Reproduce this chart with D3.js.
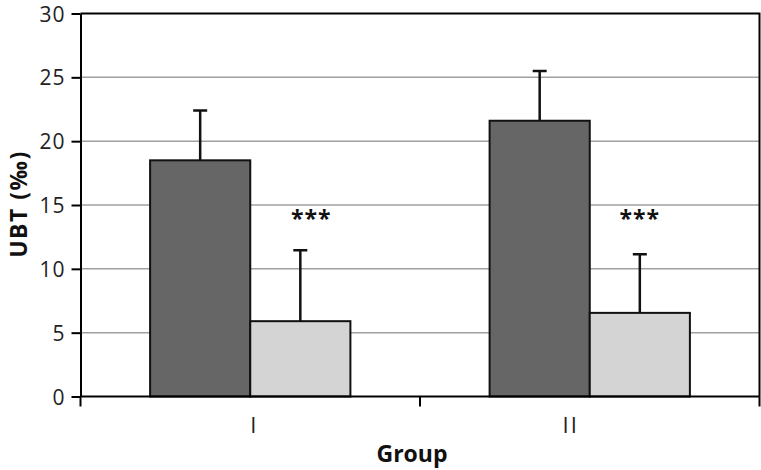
<!DOCTYPE html>
<html>
<head>
<meta charset="utf-8">
<script src="https://cdn.jsdelivr.net/npm/d3@7"></script>
<style>
  body { margin: 0; background: #fff; }
  #chart { width: 761px; height: 470px; }
</style>
</head>
<body>
<div id="chart"></div>
<script>
var groups = ['I', 'II'];
var series = ['a', 'b'];
var means = [[18.5, 5.9], [21.6, 6.55]];
var errs = [[3.9, 5.55], [3.9, 4.6]];
var stars = ['***', '***'];
var yTicks = [0, 5, 10, 15, 20, 25, 30];

(function() {
  var FONT = '"Open Sans", "DejaVu Sans", sans-serif';
  var container = document.getElementById('chart');
  var w = 761, h = 470;
  var m = { left: 80.5, right: 1.5, top: 13.5, bottom: 73.5 };

  var svg = d3.select(container).append('svg').attr('width', w).attr('height', h);

  var x = d3.scaleBand().domain(groups).range([m.left, w - m.right]);
  var xs = d3.scaleBand().domain(series).range([0, x.bandwidth()]).paddingOuter(0.695);
  var y = d3.scaleLinear().domain([0, 30]).range([h - m.bottom, m.top]);
  var colors = { a: '#666666', b: '#d4d4d4' };

  // gridlines
  svg.append('g').selectAll('line').data(yTicks.filter(function(t) { return t > 0 && t < 30; })).join('line')
    .attr('x1', m.left).attr('x2', w - m.right)
    .attr('y1', function(d) { return y(d); }).attr('y2', function(d) { return y(d); })
    .attr('stroke', '#a0a0a0').attr('stroke-width', 1.5);

  // frame top + right
  svg.append('path')
    .attr('d', 'M' + m.left + ',' + y(30) + 'H' + (w - m.right) + 'V' + y(0))
    .attr('fill', 'none').attr('stroke', '#000').attr('stroke-width', 2);

  var rows = [];
  groups.forEach(function(g, i) {
    series.forEach(function(s, j) {
      rows.push({ g: g, s: s, v: means[i][j], e: errs[i][j] });
    });
  });

  var gb = svg.append('g');
  gb.selectAll('rect').data(rows).join('rect')
    .attr('x', function(d) { return x(d.g) + xs(d.s); })
    .attr('width', xs.bandwidth())
    .attr('y', function(d) { return y(d.v); })
    .attr('height', function(d) { return y(0) - y(d.v); })
    .attr('fill', function(d) { return colors[d.s]; })
    .attr('stroke', '#111').attr('stroke-width', 2);

  // error bars (upper only)
  var cx = function(d) { return x(d.g) + xs(d.s) + xs.bandwidth() / 2; };
  gb.selectAll('path.err').data(rows).join('path').attr('class', 'err')
    .attr('d', function(d) {
      var c = cx(d), t = y(d.v + d.e);
      return 'M' + c + ',' + y(d.v) + 'V' + t + 'M' + (c - 7) + ',' + t + 'H' + (c + 7);
    })
    .attr('fill', 'none').attr('stroke', '#111').attr('stroke-width', 2.5);

  // significance stars
  svg.append('g').selectAll('text').data(groups).join('text')
    .attr('x', function(g, i) { return x(g) + xs('b') + xs.bandwidth() / 2 + (i === 0 ? 11 : 0); })
    .attr('y', y(13.3))
    .attr('text-anchor', 'middle').attr('font-family', FONT).attr('font-weight', 'bold')
    .attr('font-size', '23px').attr('letter-spacing', '1px').attr('fill', '#111')
    .text(function(g, i) { return stars[i]; });

  // y axis
  var ya = svg.append('g').attr('transform', 'translate(' + m.left + ',0)')
    .call(d3.axisLeft(y).tickValues(yTicks).tickSize(9).tickSizeOuter(0).tickPadding(6));
  ya.select('.domain').attr('stroke', '#000').attr('stroke-width', 2);
  ya.selectAll('.tick line').attr('stroke', '#000').attr('stroke-width', 2);
  ya.selectAll('.tick text').attr('font-family', FONT).attr('font-size', '21px').attr('fill', '#222')
    .attr('letter-spacing', '1px').attr('dy', '0.36em');

  // x axis
  var xa = svg.append('g').attr('transform', 'translate(0,' + y(0) + ')');
  xa.append('line').attr('x1', m.left).attr('x2', w - m.right).attr('stroke', '#000').attr('stroke-width', 2);
  var edges = groups.map(function(g) { return x(g); }).concat([x(groups[groups.length - 1]) + x.bandwidth()]);
  xa.selectAll('line.tk').data(edges).join('line').attr('class', 'tk')
    .attr('x1', function(d) { return d; }).attr('x2', function(d) { return d; })
    .attr('y1', 0).attr('y2', 10).attr('stroke', '#000').attr('stroke-width', 2);
  xa.selectAll('text').data(groups).join('text')
    .attr('x', function(g, i) { return x(g) + x.bandwidth() / 2 + (i === 0 ? 4 : -19); })
    .attr('y', 36).attr('text-anchor', 'middle')
    .attr('font-family', FONT).attr('font-size', '22px').attr('letter-spacing', '2px').attr('fill', '#222')
    .text(function(g) { return g; });

  // axis titles
  svg.append('text').attr('x', 412).attr('y', 462).attr('text-anchor', 'middle')
    .attr('font-family', FONT).attr('font-weight', 'bold').attr('font-size', '23px').attr('fill', '#111')
    .text('Group');
  svg.append('text').attr('transform', 'translate(27,204) rotate(-90)').attr('text-anchor', 'middle')
    .attr('font-family', FONT).attr('font-weight', 'bold').attr('font-size', '23px')
    .attr('letter-spacing', '1.5px').attr('fill', '#111')
    .text('UBT (‰)');
})();
</script>
</body>
</html>
